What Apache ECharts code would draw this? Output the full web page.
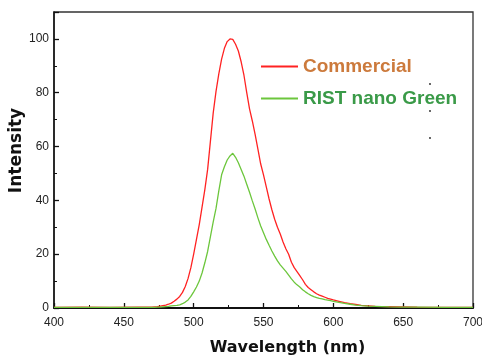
<!DOCTYPE html>
<html>
<head>
<meta charset="utf-8">
<script src="https://cdn.jsdelivr.net/npm/echarts@6/dist/echarts.min.js"></script>
<style>
  html, body { margin: 0; padding: 0; background: #fff; }
  #chart { width: 482px; height: 357px; }
</style>
</head>
<body>
<div id="chart"></div>
<script>
// emission spectra
const wavelength = [
  400, 420, 440, 460, 466,
  470, 472, 474, 476, 478, 480, 482, 484, 486, 488, 490, 492, 494, 496, 498,
  500, 502, 504, 506, 508, 510, 512, 514, 516, 518, 520, 522, 524, 526, 528,
  530, 532, 534, 536, 538, 540, 542, 544, 546, 548, 550, 552, 554, 556, 558,
  560, 562, 564, 566, 568, 570, 572, 574, 576, 578, 580, 582, 584, 586, 588,
  590, 592, 594, 596, 598, 600, 604, 608, 612, 616, 620, 625, 630, 640, 650,
  660, 680, 700
];
const commercial = [
  0.2, 0.3, 0.2, 0.3, 0.3,
  0.3, 0.4, 0.5, 0.7, 0.9, 1.1, 1.4, 1.8, 2.5, 3.3, 4.3, 5.8, 8.0, 11.0, 15.0,
  20.0, 25.5, 31.0, 37.5, 44.0, 51.5, 62.0, 72.5, 80.5, 87.0, 92.5, 96.5, 99.0, 100.0, 99.8,
  98.0, 95.5, 91.5, 86.5, 80.0, 74.0, 69.5, 64.5, 59.0, 53.5, 49.5, 45.0, 40.5, 36.5, 33.0,
  30.0, 27.5, 24.5, 22.0, 20.0, 17.0, 15.0, 13.5, 12.0, 10.5, 8.8, 7.6, 6.8, 6.0, 5.3,
  4.8, 4.4, 4.0, 3.6, 3.3, 3.0, 2.5, 2.0, 1.6, 1.3, 1.0, 0.8, 0.6, 0.5, 0.4,
  0.3, 0.2, 0.2
];
const ristNanoGreen = [
  0.2, 0.2, 0.2, 0.2, 0.2,
  0.2, 0.2, 0.3, 0.3, 0.4, 0.5, 0.6, 0.8, 0.9, 1.0, 1.2, 1.6, 2.2, 3.0, 4.3,
  6.0, 7.8, 10.0, 13.0, 16.8, 21.0, 26.5, 32.0, 37.0, 43.5, 49.5, 52.5, 55.0, 56.5, 57.5,
  56.0, 54.0, 51.5, 49.0, 46.0, 43.0, 39.8, 36.8, 33.5, 30.5, 28.0, 25.5, 23.3, 21.2, 19.3,
  17.5, 16.0, 14.8, 13.6, 12.2, 10.8, 9.6, 8.6, 7.8, 6.8, 6.0, 5.3, 4.7, 4.2, 3.9,
  3.6, 3.4, 3.1, 2.9, 2.7, 2.5, 2.1, 1.7, 1.4, 1.1, 0.9, 0.7, 0.6, 0.4, 0.3,
  0.3, 0.2, 0.2
];
const seriesNames = ['Commercial', 'RIST nano Green'];
const lineColors = ['#ff2222', '#6cc63c'];
const legendColors = ['#cc7a3c', '#3a9a48'];

const chart = echarts.init(document.getElementById('chart'));

const pairs = (ys) => wavelength.map((x, i) => [x, ys[i]]);

chart.setOption({
  animation: false,
  grid: {
    left: 54, right: 9, top: 12, bottom: 49,
    outerBoundsMode: 'none',
    show: true, borderColor: '#333', borderWidth: 1.3
  },
  legend: {
    orient: 'vertical',
    left: 256, top: 52,
    itemWidth: 37, itemHeight: 2, itemGap: 13,
    icon: 'rect',
    textStyle: {fontFamily: 'Liberation Sans', fontWeight: 'bold', fontSize: 19},
    data: seriesNames.map((n, i) => ({name: n, textStyle: {color: legendColors[i]}}))
  },
  xAxis: {
    type: 'value', min: 400, max: 700, interval: 50,
    name: 'Wavelength (nm)', nameLocation: 'middle', nameGap: 32,
    nameTextStyle: {fontFamily: 'DejaVu Sans', fontWeight: 'bold', fontSize: 16, color: '#111', padding: [0, 0, 0, 48]},
    axisLine: {lineStyle: {color: '#111', width: 2}},
    axisTick: {inside: true, length: 5, lineStyle: {color: '#111', width: 1.3}},
    minorTick: {show: true, splitNumber: 2, length: 3, lineStyle: {color: '#111', width: 1}},
    axisLabel: {fontFamily: 'Liberation Sans', fontSize: 12, color: '#222', margin: 9},
    splitLine: {show: false}
  },
  yAxis: {
    type: 'value', min: 0, max: 110, interval: 20,
    name: 'Intensity', nameLocation: 'middle', nameGap: 29, nameMoveOverlap: false,
    nameTextStyle: {fontFamily: 'DejaVu Sans', fontWeight: 'bold', fontSize: 17, color: '#111', padding: [0, 0, 0, 19]},
    axisLine: {show: true, lineStyle: {color: '#111', width: 1.5}},
    axisTick: {show: true, inside: true, length: 5, lineStyle: {color: '#111', width: 1.3}},
    minorTick: {show: true, splitNumber: 2, length: 3, lineStyle: {color: '#111', width: 1}},
    axisLabel: {fontFamily: 'Liberation Sans', fontSize: 12, color: '#222', margin: 5, showMaxLabel: false},
    splitLine: {show: false}
  },
  series: [
    {
      name: seriesNames[0], type: 'line', showSymbol: false,
      color: lineColors[0], lineStyle: {width: 1.3}, data: pairs(commercial)
    },
    {
      name: seriesNames[1], type: 'line', showSymbol: false,
      color: lineColors[1], lineStyle: {width: 1.3}, data: pairs(ristNanoGreen)
    }
  ],
  graphic: [
    {type: 'circle', shape: {cx: 430, cy: 84, r: 0.9}, style: {fill: '#222'}},
    {type: 'circle', shape: {cx: 430, cy: 111, r: 0.9}, style: {fill: '#222'}},
    {type: 'circle', shape: {cx: 430, cy: 138, r: 0.9}, style: {fill: '#222'}}
  ]
});
</script>
</body>
</html>
